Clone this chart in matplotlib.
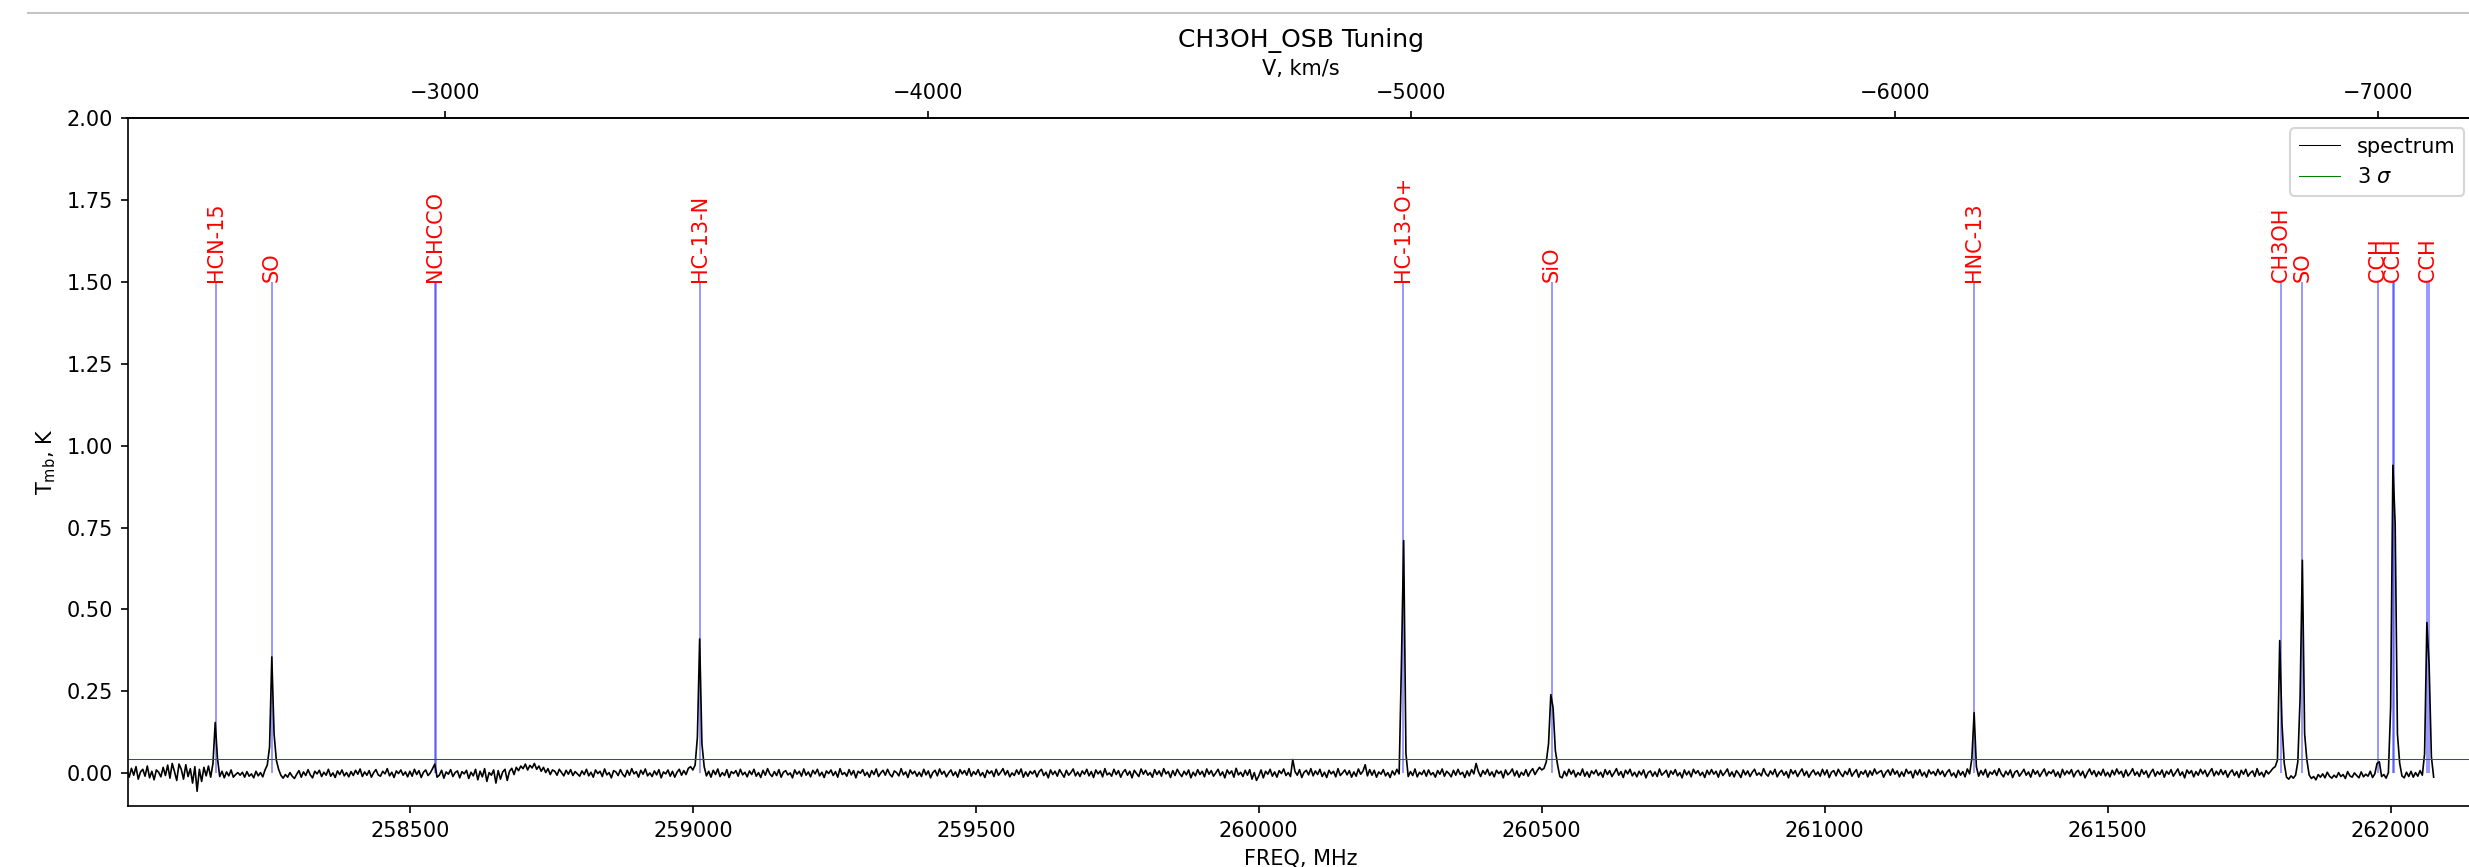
import matplotlib
matplotlib.use("Agg")
import matplotlib.pyplot as plt
import numpy as np
from matplotlib.lines import Line2D

# spectrum, T_mb in mK, one row per 100 MHz block (4 MHz channels)
FREQ_START = 258000.0
ROW_WIDTH = 100.0
CHANNEL = 4.0
TMB_MK_ROWS = [
    [8, -12, 15, -6, 20, -18, 4, 12, -9, 22, -14, 6, -20, 10, 3, -11, 18, -7, 25, -15, 30, 5, -22, 28, 12],
    [-18, 26, -10, 14, -30, 20, -55, 12, -25, 18, -8, 22, -12, 30, 155, 45, -10, 6, -14, 4, -8, 10, -12, -4, 2],
    [-6, 3, -12, 5, -9, -2, -14, 6, -8, 2, -11, 10, 25, 80, 355, 120, 40, 12, -6, -15, -4, -12, 2, -9, -16],
    [-3, 8, -12, 4, -7, 11, -5, -14, 6, -2, 9, -10, 3, -6, 12, -9, 1, -13, 7, -4, 10, -8, 2, -11, 5],
    [-7, 9, -3, 13, -10, 4, -6, 8, -12, 2, 11, -5, -9, 6, -2, 14, -8, 3, -13, 7, -1, 10, -6, 4, -11],
    [6, -9, 12, -4, 8, -13, 3, 10, -7, 1, 14, 28, -12, -6, 9, -15, 4, -3, 11, -10, 2, 7, -14, 5, -2],
    [9, -16, 3, -8, 12, -20, 6, -11, 14, -25, 2, -6, 10, -30, 8, -18, 4, 12, -22, 6, 15, -4, 18, 8, 22],
    [14, 28, 10, 24, 16, 30, 12, 22, 6, 18, 2, 14, -4, 10, 6, -6, 12, 2, -8, 9, -3, 11, -7, 5, -2],
    [-9, 7, -4, 12, -8, 3, -12, 10, -1, 6, -10, 13, -5, 2, -14, 8, 4, -7, 11, -3, -11, 9, -6, 14, -2],
    [5, -12, 9, -3, 13, -8, 1, -10, 7, -5, 11, -14, 4, -2, 10, -9, 6, -12, 3, 12, -6, 8, -4, 15, 20],
    [10, 25, 110, 410, 90, 20, -8, 6, -12, 9, -4, 13, -10, 2, -7, 11, -13, 5, -1, 8, -9, 12, -5, 3, -11],
    [7, -4, 12, -9, 2, -13, 9, -6, 14, -2, -10, 5, -7, 11, -12, 3, 8, -5, 1, -14, 10, -3, 6, -9, 13],
    [-6, 4, -11, 9, -2, 12, -8, 3, -13, 7, -1, 10, -7, 5, -12, 14, -4, 2, -9, 11, -5, 8, -14, 6, 0],
    [11, -7, 3, -12, 8, -4, 13, -10, 1, 9, -6, 12, -3, -11, 7, 2, -8, 14, -5, 4, -13, 10, -2, 6, -9],
    [3, -10, 12, -5, 7, -14, 2, 9, -8, 13, -3, 6, -11, 1, 10, -7, 4, -12, 11, -2, 8, -6, 14, -9, 5],
    [-4, 11, -8, 2, -13, 9, -1, 7, -10, 12, -6, 3, 14, -5, 8, -11, 1, -7, 10, -3, 13, -12, 4, -9, 6],
    [-2, 8, -11, 5, 12, -7, 3, -14, 10, -4, 6, -9, 11, -1, -12, 9, -6, 2, 13, -8, 4, -10, 7, -3, 12],
    [-8, 5, -13, 10, -2, 7, -11, 14, -5, 1, -9, 12, -4, 8, -12, 3, 11, -6, 6, -14, 9, -1, -10, 13, -3],
    [9, -6, 2, -12, 11, -4, 7, -9, 14, -2, 5, -13, 8, -7, 12, -1, -10, 6, -5, 10, -14, 3, -8, 11, -4],
    [6, -11, 13, -3, 8, -9, 1, 12, -7, 4, -14, 10, -2, 7, -12, 15, -5, 3, -10, 9, -6, 11, -18, 2, -22],
    [-8, 10, -14, 6, -3, 12, -9, 4, -12, 8, -1, 13, -7, 2, -10, 42, 5, -6, 11, -13, 3, 9, -5, 14, -8],
    [7, -4, 12, -10, 3, -13, 9, -2, 6, -11, 14, -7, 1, 10, -5, 8, -12, 4, -9, 13, -3, 6, 26, -8, 11],
    [-6, 9, -12, 4, -3, 11, -8, 2, -13, 7, -5, 12, -2, 330, 710, 60, -10, 5, -7, 13, -11, 3, -4, 9, -9],
    [10, -5, 2, -12, 8, -3, 13, -9, 6, -1, -11, 9, -6, 12, -4, 3, -13, 7, -8, 11, -2, 30, 5, -10, 8],
    [-3, 12, -7, 4, -11, 9, -1, 6, -14, 10, -5, 2, 13, -8, 7, -12, 3, -6, 11, -9, 5, 14, -4, 8, 18],
    [10, 15, 35, 90, 240, 200, 70, 25, -10, -14, 6, -8, 12, -3, 9, -11, 2, -6, 13, -9, 4, -12, 7, -2, 10],
    [-7, 3, -12, 11, -4, 8, -10, 1, 14, -6, 5, -13, 9, -2, 12, -8, 3, -11, 6, -5, 10, -14, 2, 7, -9],
    [4, -10, 13, -6, 1, 9, -12, 7, -3, 11, -8, 2, -14, 10, -5, 6, -11, 12, -1, 8, -7, 3, -13, 9, -4],
    [11, -3, 6, -12, 9, -7, 2, 13, -9, 4, -11, 8, -1, -13, 10, -5, 7, -10, 3, 12, -6, 1, -8, 14, -2],
    [-9, 7, -4, 12, -11, 2, 9, -6, 5, -14, 11, -2, 8, -10, 3, 13, -7, 6, -12, 1, 10, -5, 4, -9, 12],
    [-5, 10, -13, 3, 8, -8, 12, -1, -10, 6, -4, 14, -9, 2, 11, -12, 5, -3, 9, -11, 7, -6, 13, -2, 4],
    [8, -12, 2, 10, -6, 13, -3, 7, -11, 4, -9, 12, -1, 6, -14, 9, -5, 11, -8, 3, -12, 10, -2, 5, -7],
    [12, -4, 7, -10, 3, 11, -8, 1, -13, 9, -6, 5, -11, 13, -2, 45, 185, 20, -9, 8, -5, 12, -12, 4, -3],
    [9, -7, 14, -2, -11, 6, -5, 10, -13, 3, 8, -9, 1, 12, -6, 4, -12, 11, -3, 7, -10, 2, 13, -8, 5],
    [-1, 10, -9, 4, -13, 12, -5, 7, -2, 11, -11, 3, 9, -7, 6, -14, 1, 13, -4, 8, -10, 5, -6, 12, -8],
    [3, -11, 9, -5, 13, -2, 6, -12, 10, -8, 1, 14, -6, 4, -10, 11, -3, 7, -13, 2, 12, -9, 5, -4, 10],
    [-12, 6, -3, 11, -9, 2, 13, -7, 4, -14, 10, -1, 8, -11, 5, -6, 12, -2, 9, -10, 3, 14, -8, 6, -5],
    [11, -4, 8, -12, 2, 10, -7, 5, -13, 9, -3, 12, -9, 1, 7, -10, 14, -6, 3, -11, 8, -2, 6, 15, 20],
    [40, 405, 150, 30, -12, -18, -8, -15, -6, 35, 230, 650, 120, 40, -5, -16, -10, -20, -4, -12, -2, -14, 3, -9, -15],
    [-6, -13, 2, -10, -4, -16, 5, -8, -12, 1, -7, -14, 4, -11, -3, -9, 6, -13, -2, 30, 35, -10, -4, -15, 2],
    [200, 940, 760, 120, 30, -8, -14, 3, -10, 6, -12, 2, -9, 8, -6, 60, 460, 330, 50, -12],
]

# identified lines (MHz); blended components get an empty label
LINE_NAMES = ['HCN-15', 'SO', 'NCHCCO', '', 'HC-13-N', 'HC-13-O+', 'SiO', 'HNC-13',
              'CH3OH', 'SO', 'CCH', 'CCH', '', 'CCH', '']
LINE_FREQS = [258157.0, 258255.8, 258544.6, 258546.0, 259011.8, 260255.3, 260518.0, 261263.3,
              261805.7, 261843.7, 261978.1, 262004.3, 262006.5, 262065.0, 262067.5]

SIGMA3 = 0.042
LABEL_Y = 1.5

C_KMS = 299792.458
F_REST = 256000.0
XLIM = (258001, 262148)
YLIM = (-0.1, 2.0)


def freq_to_vel(f):
    return C_KMS * (1 - np.asarray(f) / F_REST)


def vel_to_freq(v):
    return F_REST * (1 - np.asarray(v) / C_KMS)


def build_spectrum():
    freqs, tmb = [], []
    for i, row in enumerate(TMB_MK_ROWS):
        start = FREQ_START + i * ROW_WIDTH
        freqs.extend(start + CHANNEL * np.arange(len(row)))
        tmb.extend(np.array(row) / 1000.0)
    return np.array(freqs), np.array(tmb)


freq, tmb = build_spectrum()

W, H, DPI = 2469, 867, 150
fig = plt.figure(figsize=(W / DPI, H / DPI), dpi=DPI)
# axes run a bit past the right edge, like the cropped screenshot
ax = fig.add_axes([127.5 / W, 1 - 806 / H, (2474.4 - 127.5) / W, (806 - 118) / H])

ax.vlines(LINE_FREQS, 0, LABEL_Y, color='blue', alpha=0.5, lw=0.75)
ax.plot(freq, tmb, color='black', lw=0.8, label='spectrum')
ax.axhline(SIGMA3, color='green', lw=0.5, label='3 $\\sigma$')

for name, f in zip(LINE_NAMES, LINE_FREQS):
    if name:
        ax.text(f, LABEL_Y, name, rotation=90, color='red', ha='center', va='bottom', fontsize=10)

ax.set_xlim(*XLIM)
ax.set_ylim(*YLIM)
ax.set_xlabel('FREQ, MHz')
ax.set_ylabel('T$_{\\mathrm{mb}}$, K')
ax.set_title('CH3OH_OSB Tuning')
leg = ax.legend(loc='upper right')
leg.get_lines()[0].set_linewidth(0.5)

secax = ax.secondary_xaxis('top', functions=(freq_to_vel, vel_to_freq))
secax.set_xlabel('V, km/s')

# notebook cell border at the top of the screenshot
fig.add_artist(Line2D([28 / W, 1.0], [1 - 13 / H, 1 - 13 / H], transform=fig.transFigure,
                      color='#c4c4c4', lw=1.0))

fig.savefig('out.png', dpi=DPI)
